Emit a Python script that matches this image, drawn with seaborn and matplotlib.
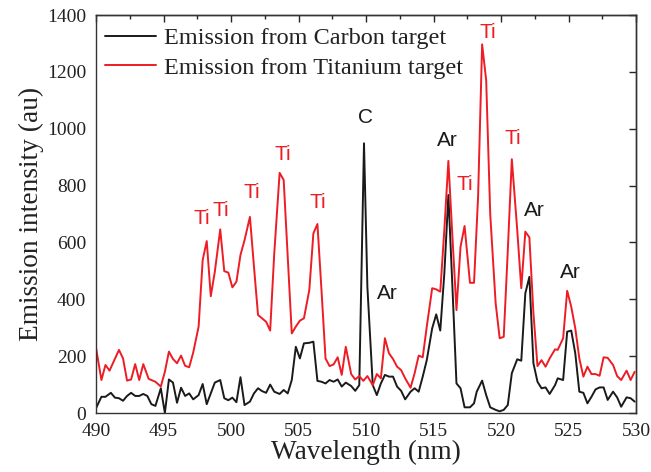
import numpy as np
import pandas as pd
import matplotlib
matplotlib.use("Agg")
import matplotlib.pyplot as plt
import seaborn as sns

# ---------------- data ----------------
wl_ti = [490.0, 490.4, 490.7, 491.0, 491.7, 492.0, 492.3, 492.6, 492.9, 493.2, 493.5, 493.9,
         494.1, 494.4, 494.8, 495.1, 495.4, 495.7, 496.0, 496.3, 496.6, 496.9, 497.2, 497.6,
         497.9, 498.2, 498.5, 498.8, 499.2, 499.5, 499.8, 500.1, 500.4, 500.7, 501.0, 501.4,
         501.7, 502.0, 502.3, 502.6, 502.9, 503.2, 503.6, 503.9, 504.2, 504.5, 504.8, 505.1,
         505.4, 505.8, 506.1, 506.4, 506.7, 507.0, 507.3, 507.6, 507.9, 508.2, 508.5, 508.9,
         509.2, 509.5, 509.8, 510.1, 510.5, 510.8, 511.1, 511.4, 511.7, 512.0, 512.3, 512.6,
         512.9, 513.3, 513.6, 513.9, 514.2, 514.5, 514.9, 515.2, 515.5, 515.8, 516.1, 516.4,
         516.7, 517.0, 517.3, 517.7, 518.0, 518.3, 518.6, 518.9, 519.2, 519.6, 519.9, 520.2,
         520.5, 520.8, 521.2, 521.5, 521.8, 522.1, 522.4, 522.7, 523.0, 523.3, 523.6, 524.0,
         524.2, 524.6, 524.9, 525.2, 525.5, 525.8, 526.1, 526.4, 526.7, 527.0, 527.3, 527.6,
         527.9, 528.3, 528.6, 528.9, 529.3, 529.6, 529.9]
int_ti = [229, 116, 169, 149, 222, 192, 114, 118, 172, 116, 172, 120,
          116, 110, 93, 145, 216, 190, 175, 202, 166, 161, 213, 304,
          538, 605, 411, 497, 646, 499, 494, 442, 462, 556, 608, 690,
          515, 345, 333, 321, 290, 560, 845, 820, 550, 280, 304, 325,
          333, 433, 632, 665, 433, 192, 165, 171, 196, 134, 233, 137,
          118, 130, 113, 130, 98, 137, 122, 263, 210, 190, 163, 151,
          122, 89, 140, 202, 196, 304, 439, 435, 427, 644, 887, 620,
          362, 585, 658, 458, 458, 760, 1297, 1171, 700, 387, 263, 268,
          570, 893, 644, 439, 638, 618, 351, 165, 186, 163, 192, 224,
          222, 263, 430, 374, 298, 192, 128, 163, 137, 137, 131, 196,
          194, 169, 130, 116, 149, 116, 145]

wl_c = [490.0, 490.4, 490.7, 491.1, 491.4, 491.7, 492.0, 492.3, 492.6, 492.9, 493.2, 493.5,
        493.8, 494.1, 494.4, 494.8, 495.1, 495.4, 495.7, 496.0, 496.3, 496.6, 496.9, 497.2,
        497.6, 497.9, 498.2, 498.5, 498.8, 499.2, 499.5, 499.8, 500.1, 500.4, 500.7, 501.0,
        501.4, 501.7, 502.0, 502.3, 502.6, 502.9, 503.2, 503.6, 503.9, 504.2, 504.5, 504.8,
        505.1, 505.4, 505.8, 506.1, 506.4, 506.7, 507.0, 507.3, 507.6, 507.9, 508.2, 508.5,
        508.9, 509.2, 509.5, 509.85, 510.1, 510.5, 510.8, 511.1, 511.4, 511.7, 512.0, 512.3,
        512.6, 512.9, 513.3, 513.6, 513.9, 514.2, 514.5, 514.9, 515.2, 515.5, 515.8, 516.1,
        516.4, 516.7, 517.0, 517.3, 517.7, 518.0, 518.2, 518.6, 518.9, 519.2, 519.6, 519.9,
        520.2, 520.5, 520.8, 521.2, 521.5, 521.8, 522.1, 522.4, 522.7, 523.0, 523.3, 523.6,
        524.0, 524.2, 524.6, 524.9, 525.2, 525.5, 525.8, 526.1, 526.4, 526.7, 527.0, 527.3,
        527.6, 527.9, 528.3, 528.6, 528.9, 529.3, 529.6, 529.9]
int_c = [17, 57, 57, 71, 54, 52, 43, 60, 71, 60, 60, 67,
         60, 31, 25, 87, 0, 118, 107, 36, 89, 60, 69, 48,
         63, 102, 31, 69, 107, 116, 52, 45, 54, 38, 126, 28,
         40, 69, 87, 77, 71, 100, 75, 67, 81, 69, 116, 233,
         192, 245, 247, 251, 113, 110, 104, 116, 110, 118, 93, 107,
         95, 78, 98, 949, 444, 98, 63, 104, 134, 128, 128, 93,
         78, 48, 75, 87, 75, 128, 186, 298, 347, 290, 491, 767,
         444, 104, 87, 20, 20, 34, 75, 114, 63, 20, 11, 6,
         11, 28, 140, 189, 184, 421, 479, 175, 110, 87, 90, 67,
         98, 122, 116, 286, 290, 210, 75, 71, 34, 57, 83, 90,
         90, 46, 75, 55, 22, 55, 52, 40]

series_names = ["Emission from Carbon target", "Emission from Titanium target"]

# peak annotations: text, wavelength, intensity, series index (0 carbon, 1 titanium)
ann_text = ["Ti", "Ti", "Ti", "Ti", "Ti", "C", "Ar", "Ar", "Ti", "Ti", "Ti", "Ar", "Ar"]
ann_x = [497.85, 499.26, 501.55, 503.85, 506.44, 509.93, 511.6, 516.0, 517.33, 519.04, 520.9, 522.5, 525.1]
ann_y = [686, 714, 777, 911, 739, 1038, 422, 960, 805, 1340, 967, 714, 496]
ann_series = [1, 1, 1, 1, 1, 0, 0, 0, 1, 1, 1, 0, 0]

x_ticks = [490, 495, 500, 505, 510, 515, 520, 525, 530]
y_ticks = [0, 200, 400, 600, 800, 1000, 1200, 1400]

# ---------------- build ----------------
df = pd.concat([
    pd.DataFrame({"Wavelength": wl_c, "Intensity": int_c, "Series": series_names[0]}),
    pd.DataFrame({"Wavelength": wl_ti, "Intensity": int_ti, "Series": series_names[1]}),
], ignore_index=True)

sns.set_style("white")
plt.rcParams["font.family"] = ["Liberation Serif", "DejaVu Serif"]
plt.rcParams["axes.linewidth"] = 1.0

RED = "#ee1c24"
BLACK = "#1a1a1a"
palette = {series_names[0]: BLACK, series_names[1]: RED}

fig = plt.figure(figsize=(6.51, 4.72), dpi=100)
ax = fig.add_axes([0.1475, 0.125, 0.8295, 0.843])

sns.lineplot(data=df, x="Wavelength", y="Intensity", hue="Series", palette=palette,
             hue_order=series_names, ax=ax, linewidth=1.4, sort=False, estimator=None)

ax.set_xlim(490, 530)
ax.set_ylim(0, 1400)
ax.set_xticks(x_ticks)
ax.set_yticks(y_ticks)
ax.set_xticks(np.arange(490, 530.1, 2.5), minor=True)
ax.tick_params(axis="both", which="major", direction="out", length=5, width=1,
               labelsize=14, colors="#222222", pad=2)
ax.tick_params(axis="x", which="minor", direction="out", length=3, width=1)
for s in ax.spines.values():
    s.set_color("#333333")

top = ax.secondary_xaxis("top")
top.set_xticks(x_ticks)
top.set_xticks(np.arange(490, 530.1, 2.5), minor=True)
top.tick_params(axis="x", which="major", direction="in", length=5, width=1, labeltop=False)
top.tick_params(axis="x", which="minor", direction="in", length=3, width=1)
right = ax.secondary_yaxis("right")
right.set_yticks(y_ticks)
right.tick_params(axis="y", which="major", direction="in", length=5, width=1, labelright=False)

ax.set_xlabel("Wavelength (nm)", fontsize=19.6, color="#222222", labelpad=0)
ax.set_ylabel("Emission intensity (au)", fontsize=19.7, color="#222222", labelpad=2)

leg = ax.legend(loc="upper left", bbox_to_anchor=(-0.018, 1.015), frameon=False,
                fontsize=17.5, handlelength=2.1, handletextpad=0.35, labelspacing=0.3,
                borderpad=0.25)
for t in leg.get_texts():
    t.set_color("#222222")

for txt, xv, yv, si in zip(ann_text, ann_x, ann_y, ann_series):
    ax.text(xv, yv, txt, color=RED if si == 1 else BLACK, fontsize=15,
            family=["Liberation Sans", "DejaVu Sans"], ha="center", va="center")

fig.savefig("out.png", dpi=100)
